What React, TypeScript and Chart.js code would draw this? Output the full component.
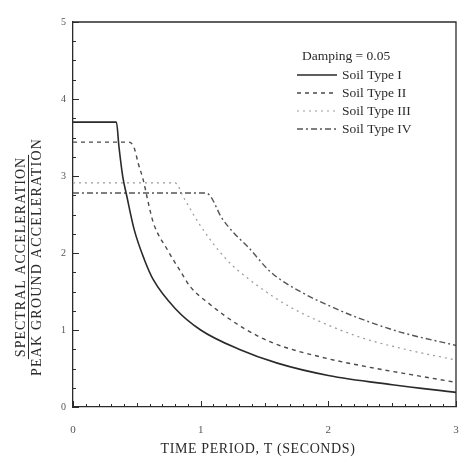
import React, { useEffect, useRef } from "react";
import { Chart, registerables } from "chart.js";

Chart.register(...registerables);

// ---- data ----
const soilTypeIPeriods = [0, 0.34, 0.36, 0.39, 0.42, 0.48, 0.56, 0.63, 0.8, 1.0, 1.3, 1.6, 2.0, 2.5, 3.0];
const soilTypeIValues = [3.7, 3.7, 3.38, 2.99, 2.75, 2.3, 1.91, 1.65, 1.28, 1.0, 0.75, 0.57, 0.41, 0.29, 0.19];

const soilTypeIIPeriods = [0, 0.44, 0.48, 0.51, 0.55, 0.59, 0.63, 0.74, 0.85, 0.92, 1.06, 1.32, 1.57, 1.94, 2.31, 2.65, 3.0];
const soilTypeIIValues = [3.44, 3.44, 3.36, 3.17, 2.95, 2.65, 2.39, 2.04, 1.74, 1.56, 1.35, 1.04, 0.83, 0.65, 0.52, 0.42, 0.32];

const soilTypeIIIPeriods = [0, 0.8, 0.87, 1.0, 1.2, 1.45, 1.7, 1.92, 2.26, 2.6, 3.0];
const soilTypeIIIValues = [2.91, 2.91, 2.71, 2.35, 1.92, 1.57, 1.3, 1.12, 0.9, 0.75, 0.61];

const soilTypeIVPeriods = [0, 1.04, 1.08, 1.16, 1.26, 1.37, 1.55, 1.79, 2.0, 2.23, 2.57, 3.0];
const soilTypeIVValues = [2.78, 2.78, 2.73, 2.47, 2.26, 2.08, 1.75, 1.49, 1.32, 1.16, 0.97, 0.8];

const seriesLabels = ["Soil Type I", "Soil Type II", "Soil Type III", "Soil Type IV"];
const xTickValues = [0, 1, 2, 3];
const yTickValues = [0, 1, 2, 3, 4, 5];
const legendTitle = "Damping = 0.05";
const xTitle = "TIME PERIOD, T (SECONDS)";
const yTitleTop = "SPECTRAL ACCELERATION";
const yTitleBottom = "PEAK GROUND ACCELERATION";

const FONT = "'Liberation Serif', 'Times New Roman', serif";
const INK = "#2b2b2b";

const toPoints = (xs: number[], ys: number[]) => xs.map((x, i) => ({ x, y: ys[i] }));

const decorPlugin = {
  id: "decor",
  afterDatasetsDraw(chart: any) {
    const { ctx, chartArea, scales } = chart;
    const xs = scales.x;
    const ys = scales.y;
    const { left, right, top, bottom } = chartArea;
    ctx.save();
    // frame: top and right
    ctx.strokeStyle = INK;
    ctx.lineWidth = 1.3;
    ctx.setLineDash([]);
    ctx.beginPath();
    ctx.moveTo(left, top);
    ctx.lineTo(right, top);
    ctx.lineTo(right, bottom);
    ctx.stroke();

    // inward minor ticks
    ctx.lineWidth = 1;
    ctx.beginPath();
    for (let i = 0; i <= 30; i++) {
      const v = i / 10;
      const px = Math.round(xs.getPixelForValue(v)) + 0.5;
      const len = i % 10 === 0 ? 6 : i % 5 === 0 ? 4 : 3;
      ctx.moveTo(px, bottom);
      ctx.lineTo(px, bottom - len);
    }
    for (let i = 0; i <= 20; i++) {
      const v = i / 4;
      const py = Math.round(ys.getPixelForValue(v)) + 0.5;
      const len = i % 4 === 0 ? 6 : 3;
      ctx.moveTo(left, py);
      ctx.lineTo(left + len, py);
    }
    ctx.stroke();

    // x title
    ctx.fillStyle = INK;
    ctx.font = `14px ${FONT}`;
    (ctx as any).letterSpacing = "0.6px";
    ctx.textAlign = "center";
    ctx.textBaseline = "middle";
    ctx.fillText(xTitle, 258, 449);

    // y title (fraction)
    ctx.save();
    ctx.translate(21, 257);
    ctx.rotate(-Math.PI / 2);
    ctx.font = `14px ${FONT}`;
    (ctx as any).letterSpacing = "1px";
    ctx.fillText(yTitleTop, 0, 0);
    const w = ctx.measureText(yTitleTop).width;
    ctx.lineWidth = 1;
    ctx.strokeStyle = INK;
    ctx.beginPath();
    ctx.moveTo(-w / 2 - 2, 7.5);
    ctx.lineTo(w / 2 + 2, 7.5);
    ctx.stroke();
    (ctx as any).letterSpacing = "1.2px";
    ctx.fillText(yTitleBottom, 0, 16);
    ctx.restore();
    (ctx as any).letterSpacing = "0px";

    // legend
    ctx.font = `13.5px ${FONT}`;
    ctx.textAlign = "left";
    ctx.textBaseline = "middle";
    ctx.fillStyle = INK;
    ctx.fillText(legendTitle, 302, 56);
    chart.data.datasets.forEach((ds: any, i: number) => {
      const y = 75 + i * 18;
      ctx.strokeStyle = ds.borderColor;
      ctx.lineWidth = ds.borderWidth;
      ctx.setLineDash(ds.borderDash || []);
      ctx.beginPath();
      ctx.moveTo(297, y);
      ctx.lineTo(337, y);
      ctx.stroke();
      ctx.setLineDash([]);
      ctx.fillStyle = INK;
      ctx.fillText(ds.label, 342, y);
    });
    ctx.restore();
  },
};

export default function App() {
  const canvasRef = useRef<HTMLCanvasElement | null>(null);

  useEffect(() => {
    const canvas = canvasRef.current;
    if (!canvas) return;
    const chart = new Chart(canvas, {
      type: "line",
      data: {
        datasets: [
          {
            label: seriesLabels[0],
            data: toPoints(soilTypeIPeriods, soilTypeIValues),
            borderColor: "#2a2a2a",
            borderWidth: 1.6,
            pointRadius: 0,
            cubicInterpolationMode: "monotone",
          },
          {
            label: seriesLabels[1],
            data: toPoints(soilTypeIIPeriods, soilTypeIIValues),
            borderColor: "#4a4a4a",
            borderWidth: 1.4,
            borderDash: [4, 4],
            pointRadius: 0,
            cubicInterpolationMode: "monotone",
          },
          {
            label: seriesLabels[2],
            data: toPoints(soilTypeIIIPeriods, soilTypeIIIValues),
            borderColor: "#9a9a9a",
            borderWidth: 1.2,
            borderDash: [2, 4],
            pointRadius: 0,
            cubicInterpolationMode: "monotone",
          },
          {
            label: seriesLabels[3],
            data: toPoints(soilTypeIVPeriods, soilTypeIVValues),
            borderColor: "#555555",
            borderWidth: 1.4,
            borderDash: [6, 3, 2, 3],
            pointRadius: 0,
            cubicInterpolationMode: "monotone",
          },
        ],
      },
      options: {
        responsive: false,
        animation: false,
        devicePixelRatio: 1,
        layout: { padding: { left: 0, top: 22, right: 8, bottom: 0 } },
        plugins: { legend: { display: false }, tooltip: { enabled: false } },
        scales: {
          x: {
            type: "linear",
            min: 0,
            max: 3,
            afterBuildTicks: (scale: any) => {
              scale.ticks = xTickValues.map((v) => ({ value: v }));
            },
            afterFit: (scale: any) => {
              scale.height = 56;
              scale.paddingLeft = 0;
              scale.paddingRight = 0;
            },
            ticks: { color: "#555", font: { family: FONT, size: 11 }, padding: 17 },
            grid: { display: false, drawTicks: false },
            border: { display: true, color: INK, width: 1.3 },
          },
          y: {
            type: "linear",
            min: 0,
            max: 5,
            afterBuildTicks: (scale: any) => {
              scale.ticks = yTickValues.map((v) => ({ value: v }));
            },
            afterFit: (scale: any) => {
              scale.width = 73;
              scale.paddingTop = 0;
              scale.paddingBottom = 0;
            },
            ticks: { color: "#555", font: { family: FONT, size: 10 }, padding: 7 },
            grid: { display: false, drawTicks: false },
            border: { display: true, color: INK, width: 1.3 },
          },
        },
      },
      plugins: [decorPlugin],
    } as any);
    return () => chart.destroy();
  }, []);

  return (
    <div style={{ position: "absolute", left: 0, top: 0, width: 464, height: 463, background: "#fff" }}>
      <canvas ref={canvasRef} width={464} height={463} />
    </div>
  );
}
